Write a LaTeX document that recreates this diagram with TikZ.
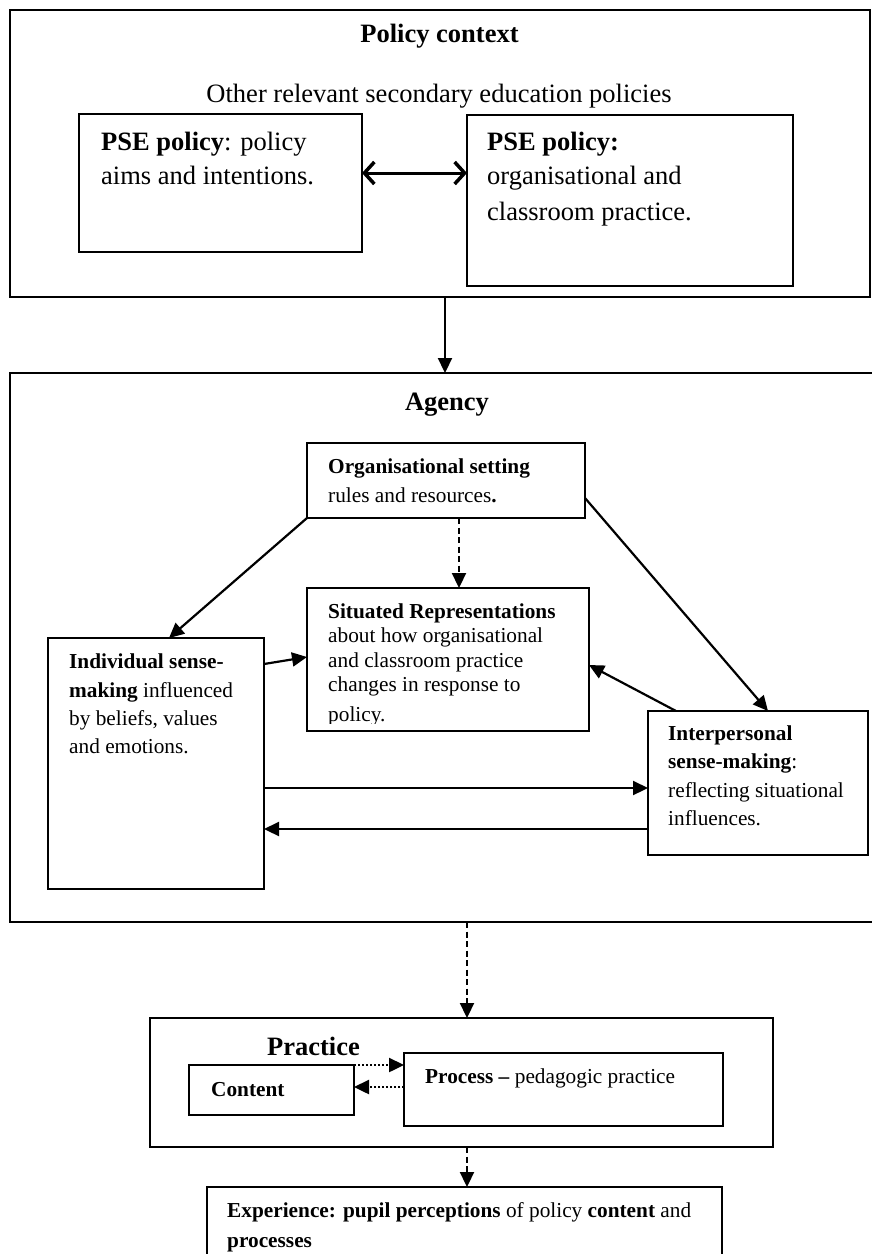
\documentclass[tikz,border=0pt]{standalone}
\usepackage{fontspec}
\setmainfont{Liberation Serif}
\usetikzlibrary{arrows.meta}

\tikzset{
  box/.style={draw, line width=1.8pt, inner sep=0pt, outer sep=0pt, anchor=north west},
  txt/.style={anchor=base west, inner sep=0pt, font=\fontsize{21.3}{25}\selectfont},
  bigtxt/.style={txt, font=\fontsize{26.5}{31}\selectfont},
  arr/.style={line width=2.2pt, -{Triangle[length=15pt,width=14pt]}},
  dasharr/.style={arr, dash pattern=on 6pt off 3.5pt},
  dotarr/.style={arr, line width=2.4pt, dash pattern=on 2pt off 2pt},
  dblarr/.style={line width=3pt, {Straight Barb[length=10pt,width=22pt,line width=3.5pt]}-{Straight Barb[length=10pt,width=22pt,line width=3.5pt]}}
}

\begin{document}
\begin{tikzpicture}[x=1pt, y=-1pt]
  \useasboundingbox (0,0) rectangle (871,1254);

  % policy context
  \node[box, minimum width=860pt, minimum height=287pt] (policy) at (10,10) {};
  \node[bigtxt, anchor=base] (poltitle) at (439.5,42) {\textbf{Policy context}};
  \node[bigtxt, anchor=base] (other) at (439,102) {Other relevant secondary education policies};

  \node[box, minimum width=283pt, minimum height=138pt] (psea) at (79,114) {};
  \node[bigtxt] (psea1) at (101,150) {\textbf{PSE policy}: policy};
  \node[bigtxt] (psea2) at (101,184) {aims and intentions.};

  \node[box, minimum width=326pt, minimum height=171pt] (pseb) at (467,115) {};
  \node[bigtxt] (pseb1) at (487,150) {\textbf{PSE policy:}};
  \node[bigtxt] (pseb2) at (487,184) {organisational and};
  \node[bigtxt] (pseb3) at (487,220) {classroom practice.};

  \draw[dblarr] ([yshift=10pt]psea.east) -- ([yshift=10pt]psea.east -| pseb.west);

  % agency
  \node[box, minimum width=866pt, minimum height=549pt] (agency) at (10,373) {};
  \draw[arr] ([xshift=435pt]policy.south west) -- ([xshift=435pt]agency.north west);
  \node[bigtxt, anchor=base] (agtitle) at (447,410) {\textbf{Agency}};

  \node[box, minimum width=278pt, minimum height=75pt] (org) at (307,443) {};
  \node[txt] (org1) at (328,473) {\textbf{Organisational setting}};
  \node[txt] (org2) at (328,502) {rules and resources\textbf{.}};

  \node[box, minimum width=282pt, minimum height=143pt] (sit) at (307,588) {};
  \node[txt] (sit1) at (328,618) {\textbf{Situated Representations}};
  \node[txt] (sit2) at (328,642) {about how organisational};
  \node[txt] (sit3) at (328,667) {and classroom practice};
  \node[txt] (sit4) at (328,691) {changes in response to};
  \begin{scope}
    \clip (307,700) rectangle (589,723);
    \node[txt] (sit5) at (328,721) {policy.};
  \end{scope}

  \node[box, minimum width=216pt, minimum height=251pt] (indiv) at (48,638) {};
  \node[txt] (indiv1) at (69,668) {\textbf{Individual sense-}};
  \node[txt] (indiv2) at (69,697) {\textbf{making} influenced};
  \node[txt] (indiv3) at (69,725) {by beliefs, values};
  \node[txt] (indiv4) at (69,753) {and emotions.};

  \node[box, minimum width=220pt, minimum height=144pt] (inter) at (648,711) {};
  \node[txt] (inter1) at (668,740) {\textbf{Interpersonal}};
  \node[txt] (inter2) at (668,768) {\textbf{sense-making}:};
  \node[txt] (inter3) at (668,797) {reflecting situational};
  \node[txt] (inter4) at (668,825) {influences.};

  \draw[arr] (org.south west) -- ([xshift=121pt]indiv.north west);
  \draw[dasharr] ([xshift=152pt]org.south west) -- ([xshift=152pt]org.south west |- sit.north);
  \draw[arr] ([yshift=-17.5pt]org.east) -- ([xshift=120pt]inter.north west);
  \draw[arr] ([yshift=-26pt]indiv.north east) -- ([yshift=-69pt]sit.north west);
  \draw[arr] ([xshift=28pt]inter.north west) -- ([yshift=-77pt]sit.north east);
  \draw[arr] ([yshift=-150pt]indiv.north east) -- ([yshift=-150pt]indiv.north east -| inter.west);
  \draw[arr] ([yshift=-118pt]inter.north west) -- ([yshift=-118pt]inter.north west -| indiv.east);

  % practice
  \node[box, minimum width=623pt, minimum height=129pt] (practice) at (150,1018) {};
  \draw[dasharr] ([xshift=457pt]agency.south west) -- ([xshift=457pt]agency.south west |- practice.north);
  \node[bigtxt] (prtitle) at (267,1055) {\textbf{Practice}};

  \node[box, minimum width=165pt, minimum height=50pt] (content) at (189,1065) {};
  \node[txt] (content1) at (211,1096) {\textbf{Content}};

  \node[box, minimum width=319pt, minimum height=73pt] (process) at (404,1053) {};
  \node[txt] (process1) at (425,1083) {\textbf{Process --} pedagogic practice};

  \draw[dotarr] (content.north east) -- (content.north east -| process.west);
  \draw[dotarr] ([yshift=-34pt]process.north west) -- ([yshift=-34pt]process.north west -| content.east);

  % experience
  \node[box, minimum width=515pt, minimum height=90pt] (exper) at (207,1187) {};
  \draw[dasharr] ([xshift=317pt]practice.south west) -- ([xshift=317pt]practice.south west |- exper.north);
  \node[txt] (exper1) at (227,1217) {\textbf{Experience: pupil perceptions} of policy \textbf{content} and};
  \node[txt] (exper2) at (227,1247) {\textbf{processes}};
\end{tikzpicture}
\end{document}
